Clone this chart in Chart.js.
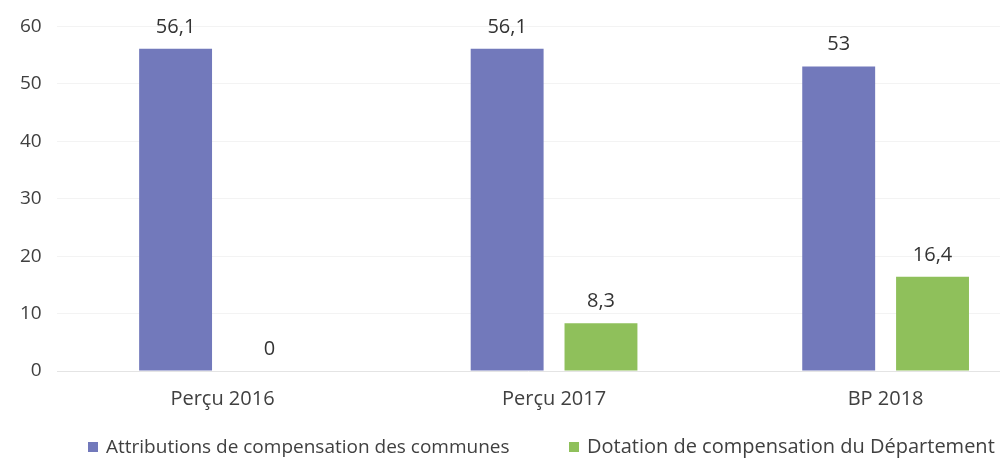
<!DOCTYPE html>
<html>
<head>
<meta charset="utf-8">
<script src="https://cdn.jsdelivr.net/npm/chart.js@4/dist/chart.umd.min.js"></script>
<style>
  html, body { margin: 0; padding: 0; background: #ffffff; overflow: hidden; }
  #wrap { position: relative; width: 1003px; height: 465px; }
  #legend {
    position: absolute;
    left: 0;
    top: 435px;
    width: 1003px;
    height: 22px;
    font-family: 'Open Sans', 'Noto Sans', sans-serif;
    line-height: 22px;
    color: #404040;
  }
  .item { position: absolute; top: 0; white-space: nowrap; }
  .swatch { position: absolute; top: 7px; width: 10px; height: 10px; }
</style>
</head>
<body>
<div id="wrap">
  <canvas id="chart"></canvas>
  <div id="legend"></div>
</div>
<script>
// Data
const categories = ["Perçu 2016", "Perçu 2017", "BP 2018"];
const attributions = [56.1, 56.1, 53];
const dotation = [0, 8.3, 16.4];
const seriesNames = [
  "Attributions de compensation des communes",
  "Dotation de compensation du Département",
];
const seriesColors = ["#7279bb", "#8fc05b"];
const yTicks = [0, 10, 20, 30, 40, 50, 60];

const FONT = "'Open Sans', 'Noto Sans', sans-serif";
const TEXT = "#404040";

function toPoints(values) {
  return values.map(function (v, i) {
    return { x: i, y: v };
  });
}

// Value labels above each bar
const valueLabels = {
  id: "valueLabels",
  afterDatasetsDraw: function (chart) {
    const ctx = chart.ctx;
    ctx.save();
    ctx.font = "20px " + FONT;
    ctx.fillStyle = "#333333";
    ctx.textAlign = "center";
    ctx.textBaseline = "middle";
    chart.data.datasets.forEach(function (ds, di) {
      const meta = chart.getDatasetMeta(di);
      meta.data.forEach(function (bar, i) {
        const v = ds.data[i].y;
        ctx.fillText(String(v).replace(".", ","), bar.x, bar.y - 22);
      });
    });
    ctx.restore();
  },
};

const chart = new Chart(document.getElementById("chart").getContext("2d"), {
  type: "bar",
  data: {
    datasets: [
      {
        label: seriesNames[0],
        data: toPoints(attributions),
        backgroundColor: seriesColors[0],
        categoryPercentage: 0.566,
        barPercentage: 0.777,
      },
      {
        label: seriesNames[1],
        data: toPoints(dotation),
        backgroundColor: seriesColors[1],
        categoryPercentage: 0.566,
        barPercentage: 0.777,
      },
    ],
  },
  options: {
    responsive: true,
    maintainAspectRatio: false,
    animation: false,
    layout: {
      padding: { left: 5, right: 3, top: 0, bottom: 46 },
    },
    plugins: {
      legend: { display: false },
      tooltip: { enabled: false },
    },
    scales: {
      x: {
        type: "linear",
        offset: false,
        min: -0.5,
        max: 2.345,
        afterBuildTicks: function (axis) {
          axis.ticks = categories.map(function (c, i) {
            return { value: i };
          });
        },
        grid: { display: false },
        border: { display: false },
        ticks: {
          autoSkip: false,
          maxRotation: 0,
          padding: 8,
          color: TEXT,
          font: { size: 20, family: FONT },
          callback: function (value) {
            return categories[value];
          },
        },
      },
      y: {
        min: 0,
        max: 60,
        afterBuildTicks: function (axis) {
          axis.ticks = yTicks.map(function (v) {
            return { value: v };
          });
        },
        grid: {
          color: function (c) {
            return c.tick && c.tick.value === 0 ? "#e4e4e4" : "#f3f3f3";
          },
          drawTicks: false,
        },
        border: { display: false },
        ticks: {
          padding: 15,
          color: TEXT,
          font: { size: 19, family: FONT },
        },
      },
    },
  },
  plugins: [valueLabels],
});

// Legend below the plot, placed like the original
const legendPos = [88, 569];
const legendSize = [19, 20];
const legendEl = document.getElementById("legend");
seriesNames.forEach(function (name, i) {
  const item = document.createElement("div");
  item.className = "item";
  item.style.left = legendPos[i] + "px";
  item.style.fontSize = legendSize[i] + "px";
  const sw = document.createElement("span");
  sw.className = "swatch";
  sw.style.left = "0px";
  sw.style.background = seriesColors[i];
  const txt = document.createElement("span");
  txt.style.marginLeft = "18px";
  txt.textContent = name;
  item.appendChild(sw);
  item.appendChild(txt);
  legendEl.appendChild(item);
});
</script>
</body>
</html>
